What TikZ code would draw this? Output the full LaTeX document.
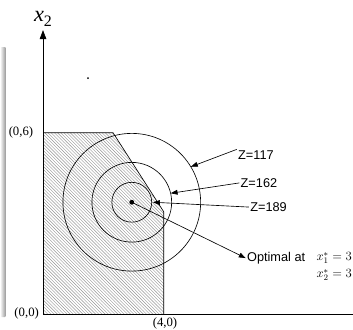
\documentclass[tikz,border=0pt]{standalone}
\usepackage{fontspec}
\setmainfont{Liberation Serif}
\newfontfamily\arialfont{Liberation Sans}
\usetikzlibrary{arrows.meta,patterns,calc}
\definecolor{figH}{RGB}{150,150,150}
\definecolor{figS}{RGB}{150,150,150}

\begin{document}
\begin{tikzpicture}[line width=0.6pt,>={Triangle[length=2.3mm,width=1.6mm]},
  zlab/.style={font=\arialfont\fontsize{12}{14}\selectfont,inner sep=1pt},
  plab/.style={font=\fontsize{12}{14}\selectfont,inner sep=1pt}]
\useasboundingbox (-1.424,-0.530) rectangle (10.265,10.397);
% shadow strip at the left edge
\shade[left color=white,right color=figS,rounded corners=1pt] (-1.424,-0.1) rectangle (-1.23,8.84);
% feasible region
\fill[pattern=north west lines,pattern color=figH] (0,0)--(0,6)--(2.32,6)--(4,3.38)--(4,0)--cycle;
\draw (0,6)--(2.32,6)--(4,3.38)--(4,0);
% axes
\draw[-{Triangle[length=3mm,width=2.2mm]}] (0,0)--(0,9.4) node[above=2pt,font=\fontsize{21}{22}\selectfont,inner sep=1pt] (x2lab) {\textit{x}\raisebox{-0.45ex}{\fontsize{15}{15}\selectfont 2}};
\draw (0,0)--(10.265,0);
\node[plab] (p06) at (-0.73,6) {(0,6)};
\node[plab] (p00) at (-0.54,0.03) {(0,0)};
\node[plab] (p40) at (4.04,-0.3) {(4,0)};
\fill (1.49,7.81) circle (0.03);
% contours of Z
\coordinate (opt) at (2.94,3.70);
\foreach \r in {0.66,1.32,2.28} { \draw (opt) circle (\r); }
\fill (opt) circle (0.08);
\node[zlab] (z117) at (7.05,5.26) {Z=117};
\node[zlab] (z162) at (7.15,4.34) {Z=162};
\node[zlab] (z189) at (7.47,3.54) {Z=189};
\node[zlab] (optlab) at (7.72,1.85) {Optimal at};
\node[font=\fontsize{11.5}{16}\selectfont,align=left,inner sep=0pt,anchor=west] (sol) at (9.05,1.57) {$x_1^*=3$\\$x_2^*=3$};
\draw[->] (z117.north west) -- ($(opt)+(31:2.28)$);
\draw[->] (z162.west) -- ($(opt)+(13:1.32)$);
\draw[->] (z189.west) -- ($(opt)+(0:0.7)$);
\draw[->] (opt) -- (optlab.west);
\end{tikzpicture}
\end{document}
